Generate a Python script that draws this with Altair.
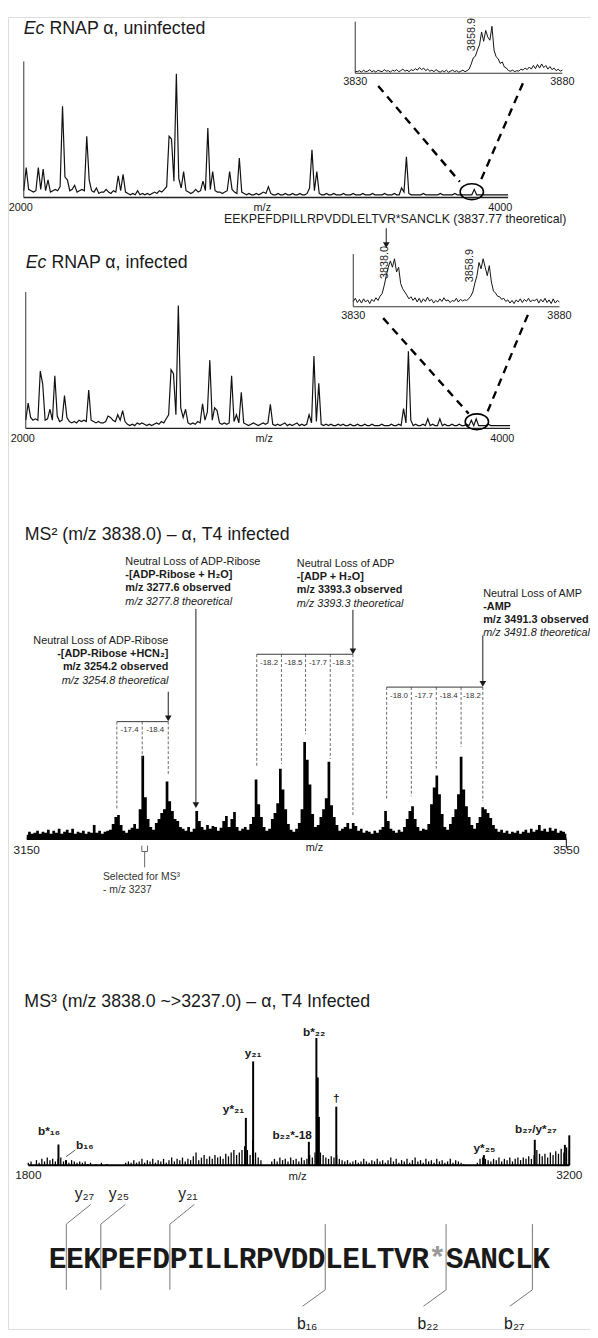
import altair as alt
import pandas as pd

FONT = "Liberation Sans"
MONO = "Liberation Mono"
INK = "#1a1a1a"
OFF = 8  # page margin

# ---------------- panel placement (page px): x-domain, x-range, y-domain, y-range
PANELS = {
    "A":  ([2000, 4000], [24, 515],     [0, 1], [191, 53]),
    "Ai": ([3830, 3880], [360, 570],    [0, 1], [65, 12.7]),
    "B":  ([2000, 4000], [26, 517],     [0, 1], [425, 286.7]),
    "Bi": ([3830, 3880], [358, 567],    [0, 1], [301.7, 248.3]),
    "C":  ([3150, 3550], [27, 574],     [0, 1], [841, 741]),
    "D":  ([1800, 3200], [28.6, 577],   [0, 1], [1172, 1043]),
    "E":  ([0, 29],      [49.6, 557.1], [0, 1], [1298.3, 1231.7]),
}

# ---------------- data: full MS spectra (m/z grid step 10)
full_mz = list(range(2000, 4001, 10))
uninfected = [
    0.05, 0.22, 0.06, 0.05, 0.04, 0.05, 0.22, 0.06, 0.21, 0.05,
    0.13, 0.04, 0.05, 0.06, 0.05, 0.08, 0.67, 0.15, 0.13, 0.05,
    0.06, 0.09, 0.04, 0.05, 0.06, 0.05, 0.45, 0.13, 0.05, 0.04,
    0.07, 0.03, 0.04, 0.04, 0.06, 0.04, 0.03, 0.05, 0.04, 0.16,
    0.05, 0.17, 0.04, 0.03, 0.02, 0.03, 0.02, 0.05, 0.02, 0.03,
    0.02, 0.03, 0.02, 0.03, 0.04, 0.03, 0.05, 0.04, 0.06, 0.08,
    0.45, 0.43, 0.12, 0.91, 0.14, 0.07, 0.19, 0.05, 0.04, 0.03,
    0.04, 0.06, 0.04, 0.05, 0.12, 0.05, 0.51, 0.06, 0.19, 0.05,
    0.04, 0.04, 0.03, 0.04, 0.05, 0.19, 0.06, 0.04, 0.03, 0.29,
    0.04, 0.03, 0.02, 0.03, 0.02, 0.02, 0.03, 0.02, 0.03, 0.04,
    0.03, 0.08, 0.03, 0.02, 0.02, 0.03, 0.02, 0.02, 0.03, 0.02,
    0.02, 0.03, 0.02, 0.02, 0.03, 0.02, 0.02, 0.03, 0.07, 0.35,
    0.05, 0.19, 0.03, 0.02, 0.02, 0.03, 0.02, 0.02, 0.03, 0.02,
    0.02, 0.02, 0.03, 0.02, 0.02, 0.02, 0.03, 0.02, 0.02, 0.02,
    0.03, 0.02, 0.02, 0.02, 0.03, 0.02, 0.02, 0.02, 0.02, 0.03,
    0.02, 0.02, 0.02, 0.03, 0.02, 0.02, 0.07, 0.04, 0.30, 0.03,
    0.02, 0.02, 0.02, 0.02, 0.02, 0.03, 0.02, 0.02, 0.02, 0.02,
    0.02, 0.02, 0.03, 0.02, 0.02, 0.02, 0.02, 0.02, 0.03, 0.02,
    0.02, 0.02, 0.02, 0.02, 0.02, 0.02, 0.06, 0.02, 0.02, 0.02,
    0.02, 0.02, 0.02, 0.02, 0.02, 0.02, 0.02, 0.02, 0.02, 0.02,
    0.02,
]
infected = [
    0.06, 0.185, 0.08, 0.06, 0.07, 0.06, 0.42, 0.325, 0.06, 0.07,
    0.14, 0.06, 0.385, 0.09, 0.05, 0.06, 0.24, 0.08, 0.05, 0.04,
    0.05, 0.04, 0.06, 0.05, 0.06, 0.05, 0.28, 0.06, 0.05, 0.04,
    0.05, 0.04, 0.04, 0.05, 0.09, 0.08, 0.06, 0.05, 0.10, 0.06,
    0.13, 0.05, 0.03, 0.02, 0.03, 0.02, 0.04, 0.03, 0.04, 0.03,
    0.02, 0.03, 0.02, 0.03, 0.04, 0.03, 0.05, 0.04, 0.07, 0.10,
    0.43, 0.40, 0.10, 0.90, 0.15, 0.08, 0.14, 0.04, 0.03, 0.04,
    0.03, 0.05, 0.04, 0.18, 0.06, 0.12, 0.50, 0.06, 0.15, 0.13,
    0.04, 0.03, 0.04, 0.03, 0.04, 0.385, 0.05, 0.10, 0.04, 0.265,
    0.04, 0.03, 0.02, 0.03, 0.04, 0.03, 0.02, 0.03, 0.04, 0.03,
    0.04, 0.176, 0.03, 0.02, 0.03, 0.02, 0.03, 0.04, 0.02, 0.03,
    0.02, 0.03, 0.04, 0.02, 0.03, 0.02, 0.03, 0.10, 0.04, 0.53,
    0.05, 0.33, 0.03, 0.02, 0.03, 0.02, 0.03, 0.02, 0.02, 0.03,
    0.02, 0.03, 0.02, 0.02, 0.03, 0.02, 0.02, 0.03, 0.02, 0.02,
    0.03, 0.02, 0.02, 0.03, 0.02, 0.02, 0.02, 0.03, 0.02, 0.02,
    0.02, 0.03, 0.02, 0.02, 0.03, 0.02, 0.145, 0.04, 0.566, 0.06,
    0.02, 0.03, 0.02, 0.02, 0.03, 0.02, 0.07, 0.02, 0.03, 0.02,
    0.02, 0.07, 0.02, 0.03, 0.02, 0.02, 0.03, 0.02, 0.02, 0.03,
    0.02, 0.02, 0.03, 0.02, 0.06, 0.02, 0.07, 0.02, 0.02, 0.02,
    0.02, 0.03, 0.02, 0.02, 0.02, 0.02, 0.02, 0.02, 0.02, 0.02,
    0.02,
]

# ---------------- zoom insets (m/z 3830-3880, step 0.5)
inset_mz = [3830 + 0.5 * i for i in range(101)]
inset_uninf = [
    0.04, 0.03, 0.05, 0.02, 0.06, 0.03, 0.04, 0.07, 0.03, 0.05,
    0.02, 0.06, 0.04, 0.03, 0.07, 0.04, 0.05, 0.02, 0.06, 0.04,
    0.07, 0.03, 0.05, 0.08, 0.04, 0.06, 0.03, 0.07, 0.05, 0.09,
    0.06, 0.11, 0.07, 0.10, 0.05, 0.08, 0.04, 0.06, 0.03, 0.07,
    0.04, 0.02, 0.05, 0.03, 0.06, 0.02, 0.04, 0.06, 0.03, 0.05,
    0.02, 0.04, 0.06, 0.03, 0.05, 0.08, 0.18, 0.30, 0.33, 0.45,
    0.55, 0.80, 0.62, 0.83, 0.70, 0.64, 0.91, 0.45, 0.32, 0.28,
    0.19, 0.22, 0.12, 0.10, 0.05, 0.04, 0.06, 0.03, 0.05, 0.04,
    0.08, 0.06, 0.10, 0.07, 0.12, 0.08, 0.15, 0.09, 0.17, 0.10,
    0.18, 0.11, 0.15, 0.08, 0.13, 0.07, 0.10, 0.05, 0.08, 0.04,
    0.06,
]
inset_inf = [
    0.10, 0.16, 0.08, 0.14, 0.07, 0.15, 0.09, 0.13, 0.06, 0.14,
    0.10, 0.17, 0.12, 0.20, 0.25, 0.40, 0.59, 0.75, 0.87, 0.75,
    0.91, 0.66, 0.75, 0.44, 0.34, 0.28, 0.22, 0.15, 0.19, 0.12,
    0.17, 0.09, 0.16, 0.08, 0.15, 0.10, 0.18, 0.11, 0.14, 0.07,
    0.12, 0.09, 0.15, 0.10, 0.17, 0.11, 0.13, 0.08, 0.12, 0.10,
    0.16, 0.09, 0.14, 0.11, 0.13, 0.12, 0.15, 0.20, 0.28, 0.45,
    0.59, 0.84, 0.72, 0.91, 0.75, 0.59, 0.78, 0.47, 0.30, 0.26,
    0.20, 0.19, 0.14, 0.16, 0.10, 0.13, 0.07, 0.12, 0.06, 0.13,
    0.09, 0.15, 0.08, 0.14, 0.10, 0.16, 0.09, 0.13, 0.11, 0.15,
    0.07, 0.14, 0.09, 0.16, 0.08, 0.13, 0.06, 0.15, 0.07, 0.12,
    0.09,
]

# ---------------- MS2 spectrum (m/z 3150-3550, step 2)
ms2_mz = list(range(3150, 3551, 2))
ms2_int = [
    0.04, 0.07, 0.05, 0.06, 0.08, 0.05, 0.07, 0.06, 0.09, 0.05,
    0.08, 0.06, 0.10, 0.05, 0.07, 0.09, 0.06, 0.10, 0.05, 0.07,
    0.06, 0.08, 0.05, 0.07, 0.06, 0.14, 0.06, 0.08, 0.05, 0.07,
    0.08, 0.09, 0.15, 0.22, 0.24, 0.14, 0.08, 0.06, 0.09, 0.11,
    0.15, 0.10, 0.30, 0.84, 0.42, 0.20, 0.12, 0.09, 0.16, 0.20,
    0.26, 0.30, 0.58, 0.38, 0.28, 0.20, 0.18, 0.12, 0.10, 0.08,
    0.12, 0.07, 0.10, 0.28, 0.18, 0.12, 0.09, 0.14, 0.10, 0.13,
    0.12, 0.08, 0.11, 0.18, 0.23, 0.12, 0.20, 0.27, 0.12, 0.08,
    0.10, 0.12, 0.09, 0.15, 0.22, 0.60, 0.35, 0.22, 0.12, 0.08,
    0.10, 0.20, 0.26, 0.36, 0.71, 0.50, 0.30, 0.15, 0.09, 0.07,
    0.10, 0.16, 0.30, 0.98, 0.80, 0.55, 0.25, 0.12, 0.14, 0.22,
    0.30, 0.41, 0.78, 0.34, 0.22, 0.14, 0.08, 0.10, 0.12, 0.16,
    0.10, 0.16, 0.13, 0.08, 0.10, 0.06, 0.08, 0.07, 0.05, 0.08,
    0.06, 0.09, 0.12, 0.28, 0.18, 0.10, 0.08, 0.06, 0.09, 0.07,
    0.12, 0.20, 0.28, 0.33, 0.20, 0.12, 0.08, 0.10, 0.09, 0.15,
    0.35, 0.52, 0.64, 0.45, 0.25, 0.12, 0.09, 0.15, 0.22, 0.30,
    0.45, 0.83, 0.50, 0.33, 0.22, 0.14, 0.10, 0.16, 0.22, 0.32,
    0.30, 0.26, 0.21, 0.14, 0.10, 0.07, 0.09, 0.06, 0.08, 0.05,
    0.07, 0.06, 0.08, 0.05, 0.07, 0.09, 0.06, 0.10, 0.07, 0.09,
    0.14, 0.08, 0.10, 0.07, 0.11, 0.08, 0.10, 0.06, 0.08, 0.07,
    0.05,
]
# neutral-loss ladders: dashed-line m/z, dashed-line lower ends, bracket height, label height, step labels
ladders = [
    ([3216.8, 3235.6, 3254.9], [0.29, 0.81, 0.64], 1.187, 1.103, ["-17.4", "-18.4"]),
    ([3320.5, 3338.8, 3356.7, 3375.0, 3391.8], [0.73, 0.76, 1.06, 0.81, 0.23], 1.87, 1.777,
     ["-18.2", "-18.5", "-17.7", "-18.3"]),
    ([3416.8, 3435.1, 3453.6, 3472.0, 3488.1], [0.39, 0.43, 0.71, 0.93, 0.38], 1.537, 1.45,
     ["-18.0", "-17.7", "-18.4", "-18.2"]),
]
# arrows: m/z, start, tip
ms2_arrows = [(3254.9, 1.49, 1.19), (3275.4, 2.33, 0.31), (3391.8, 2.32, 1.87), (3488.1, 2.06, 1.54)]
# annotation blocks: x, y, text
notes_plain_l = [(3223.1, 2.803, "Neutral Loss of ADP-Ribose"), (3350.2, 2.783, "Neutral Loss of ADP"),
                 (3488.4, 2.483, "Neutral Loss of AMP")]
notes_bold_l = [(3223.1, 2.67, "-[ADP-Ribose + H₂O]"), (3223.1, 2.537, "m/z 3277.6  observed"),
                (3350.2, 2.65, "-[ADP + H₂O]"), (3350.2, 2.517, "m/z 3393.3 observed"),
                (3488.4, 2.35, "-AMP"), (3488.4, 2.217, "m/z 3491.3 observed")]
notes_ital_l = [(3223.1, 2.403, "m/z 3277.8 theoretical"), (3350.2, 2.383, "m/z 3393.3 theoretical"),
                (3488.4, 2.083, "m/z 3491.8 theoretical")]
notes_plain_r = [(3255.0, 2.003, "Neutral Loss of ADP-Ribose")]
notes_bold_r = [(3255.0, 1.87, "-[ADP-Ribose +HCN₂]"), (3255.0, 1.737, "m/z 3254.2  observed")]
notes_ital_r = [(3255.0, 1.603, "m/z 3254.8 theoretical")]
selected = [(3206.5, -0.39, "Selected for MS³"), (3206.5, -0.523, "- m/z 3237")]

# ---------------- MS3 spectrum (m/z 1800-3200)
ms3_noise_mz = list(range(1800, 3201, 7))
ms3_noise = [
    0.02, 0.03, 0.00, 0.04, 0.02, 0.05, 0.03, 0.06, 0.04, 0.05,
    0.03, 0.05, 0.06, 0.03, 0.04, 0.02, 0.04, 0.03, 0.02, 0.03,
    0.02, 0.03, 0.01, 0.02, 0.00, 0.01, 0.00, 0.02, 0.00, 0.01,
    0.00, 0.00, 0.00, 0.00, 0.00, 0.00, 0.02, 0.03, 0.02, 0.04,
    0.02, 0.03, 0.05, 0.02, 0.04, 0.03, 0.05, 0.02, 0.04, 0.03,
    0.05, 0.02, 0.04, 0.06, 0.03, 0.05, 0.04, 0.06, 0.03, 0.05,
    0.04, 0.07, 0.10, 0.04, 0.06, 0.08, 0.05, 0.07, 0.05, 0.08,
    0.06, 0.07, 0.05, 0.09, 0.07, 0.10, 0.12, 0.08, 0.10, 0.12,
    0.15, 0.12, 0.08, 0.20, 0.10, 0.06, 0.04, 0.00, 0.00, 0.00,
    0.03, 0.05, 0.03, 0.06, 0.04, 0.05, 0.03, 0.06, 0.04, 0.05,
    0.03, 0.06, 0.04, 0.05, 0.08, 0.06, 0.10, 0.12, 0.10, 0.08,
    0.06, 0.05, 0.07, 0.06, 0.08, 0.05, 0.04, 0.03, 0.04, 0.02,
    0.03, 0.04, 0.02, 0.03, 0.05, 0.03, 0.02, 0.04, 0.03, 0.05,
    0.03, 0.04, 0.02, 0.04, 0.06, 0.03, 0.05, 0.02, 0.04, 0.03,
    0.05, 0.02, 0.04, 0.06, 0.03, 0.04, 0.02, 0.05, 0.03, 0.04,
    0.02, 0.05, 0.03, 0.04, 0.02, 0.03, 0.05, 0.02, 0.04, 0.03,
    0.02, 0.01, 0.00, 0.00, 0.00, 0.00, 0.02, 0.05, 0.06, 0.05,
    0.04, 0.03, 0.05, 0.04, 0.06, 0.03, 0.05, 0.04, 0.06, 0.03,
    0.05, 0.06, 0.04, 0.06, 0.05, 0.07, 0.05, 0.08, 0.12, 0.09,
    0.07, 0.09, 0.06, 0.10, 0.08, 0.11, 0.09, 0.13, 0.10, 0.14,
    0.12,
]
ms3_peak_mz = [1878, 1897.5, 2363, 2381.8, 2526, 2545.5, 2549, 2552, 2597, 2979, 3110.7, 3188.6, 3200]
ms3_peak_int = [0.163, 0.04, 0.372, 0.816, 0.184, 1.0, 0.69, 0.38, 0.46, 0.08, 0.20, 0.16, 0.235]
ms3_labels = [
    (1853.6, 0.271, "b*₁₆"), (1946.3, 0.157, "b₁₆"), (2331.0, 0.442, "y*₂₁"),
    (2381.8, 0.881, "y₂₁"), (2539.6, 1.049, "b*₂₂"), (2597.0, 0.527, "†"),
    (2482.7, 0.235, "b₂₂*-18"), (2980.5, 0.132, "y*₂₅"), (3113.3, 0.287, "b₂₇/y*₂₇"),
]

# ---------------- peptide map
peptide = "EEKPEFDPILLRPVDDLELTVR*SANCLK"
y_ions = [(1, "y₂₇"), (3, "y₂₅"), (7, "y₂₁")]
b_ions = [(16, "b₁₆"), (23, "b₂₂"), (28, "b₂₇")]

# ============================================================ helpers
layers = []


def enc(p):
    xd, xr, yd, yr = PANELS[p]
    return dict(
        x=alt.X("x:Q", scale=alt.Scale(domain=xd, range=[xr[0] - OFF, xr[1] - OFF], nice=False, zero=False),
                axis=None),
        y=alt.Y("y:Q", scale=alt.Scale(domain=yd, range=[yr[0] - OFF, yr[1] - OFF], nice=False, zero=False),
                axis=None),
    )


def line(p, xs, ys, **kw):
    df = pd.DataFrame({"x": xs, "y": ys})
    layers.append(alt.Chart(df).mark_line(**kw).encode(**enc(p)))


def area(p, xs, ys, **kw):
    df = pd.DataFrame({"x": xs, "y": ys})
    layers.append(alt.Chart(df).mark_area(**kw).encode(**enc(p), y2=alt.datum(0)))


def sticks(p, xs, ys, **kw):
    df = pd.DataFrame({"x": xs, "y": ys})
    layers.append(alt.Chart(df).mark_rule(**kw).encode(**enc(p), y2=alt.datum(0)))


def segs(p, rows, **kw):
    df = pd.DataFrame(rows, columns=["x", "y", "x2", "y2"])
    layers.append(alt.Chart(df).mark_rule(**kw).encode(**enc(p), x2="x2:Q", y2="y2:Q"))


def texts(p, rows, **kw):
    df = pd.DataFrame(rows, columns=["x", "y", "t"])
    kw.setdefault("font", FONT)
    kw.setdefault("color", INK)
    kw.setdefault("baseline", "middle")
    layers.append(alt.Chart(df).mark_text(**kw).encode(**enc(p), text="t:N"))


def points(p, rows, **kw):
    df = pd.DataFrame(rows, columns=["x", "y"])
    layers.append(alt.Chart(df).mark_point(**kw).encode(**enc(p)))


ELLIPSE = "M-1,0A1,0.68,0,1,1,1,0A1,0.68,0,1,1,-1,0Z"

# ============================================================ panels A / B
for p, pi, spec, ins, title, lab_y in [
    ("A", "Ai", uninfected, inset_uninf, "RNAP α, uninfected", 1.234),
    ("B", "Bi", infected, inset_inf, "RNAP α, infected", 1.215),
]:
    line(p, full_mz, spec, color="#111", strokeWidth=1.2)
    segs(p, [(2000, 0, 2000, 1)], color="#333", strokeWidth=1)
    segs(p, [(2000, 0, 4000, 0)], color="#222", strokeWidth=1.4)
    texts(p, [(2000, -0.08, "2000")], fontSize=11, dx=-3)
    texts(p, [(2985, -0.08, "m/z")], fontSize=11)
    texts(p, [(4000, -0.08, "4000")], fontSize=11, dx=-8)
    texts(p, [(2000, lab_y, "Ec")], fontSize=18, fontStyle="italic", align="left")
    texts(p, [(2000, lab_y, title)], fontSize=18, align="left", dx=26)
    # inset
    line(pi, inset_mz, ins, color="#111", strokeWidth=1)
    segs(pi, [(3830, 0, 3830, 1)], color="#333", strokeWidth=1)
    segs(pi, [(3830, 0, 3880, 0)], color="#333", strokeWidth=1.2)
    texts(pi, [(3830, -0.17, "3830"), (3880, -0.17, "3880")], fontSize=11)

texts("Ai", [(3858.1, 0.75, "3858.9")], fontSize=11, angle=270)
texts("Bi", [(3837.7, 0.84, "3838.0"), (3858.4, 0.78, "3858.9")], fontSize=11, angle=270)

segs("A", [(3463.6, 0.819, 3800.4, 0.116), (4061, 0.84, 3888, 0.13)],
     color="black", strokeWidth=2.4, strokeDash=[8, 6])
segs("B", [(3475.8, 0.808, 3829, 0.108), (4073.3, 0.832, 3903.5, 0.108)],
     color="black", strokeWidth=2.4, strokeDash=[8, 6])
points("A", [(3850, 0.043)], shape=ELLIPSE, size=560, filled=False, color="black", strokeWidth=1.6, opacity=1)
points("B", [(3862.7, 0.048)], shape=ELLIPSE, size=560, filled=False, color="black", strokeWidth=1.6, opacity=1)

texts("A", [(2827, -0.159, "EEKPEFDPILLRPVDDLELTVR*SANCLK (3837.77 theoretical)")],
      fontSize=12.5, align="left")
segs("Bi", [(3838.0, 1.49, 3838.0, 1.17)], color=INK, strokeWidth=1)
points("Bi", [(3838.0, 1.17)], shape="triangle-down", size=45, filled=True, color=INK, opacity=1)

# ============================================================ panel C (MS2)
texts("C", [(3150, 3.08, "MS² (m/z 3838.0) – α, T4 infected")], fontSize=18, align="left", dx=-2)
area("C", ms2_mz, ms2_int, color="black", interpolate="step")
segs("C", [(3150, 0, 3550, 0)], color="black", strokeWidth=2.4)
segs("C", [(3550, 0, 3550, -0.1)], color="black", strokeWidth=1)
texts("C", [(3150, -0.117, "3150"), (3550, -0.117, "3550")], fontSize=12)
texts("C", [(3363.3, -0.09, "m/z")], fontSize=11)

dash_rows, top_rows, step_rows = [], [], []
for xs, ends, top, lab, steps in ladders:
    for x, e in zip(xs, ends):
        dash_rows.append((x, top, x, e))
    top_rows.append((xs[0], top, xs[-1], top))
    for i, s in enumerate(steps):
        step_rows.append(((xs[i] + xs[i + 1]) / 2, lab, s))
segs("C", dash_rows, color="#444", strokeWidth=0.8, strokeDash=[3, 2])
segs("C", top_rows, color="#222", strokeWidth=0.9)
texts("C", step_rows, fontSize=8, color="#333")

segs("C", [(x, a, x, t + 0.03) for x, a, t in ms2_arrows], color=INK, strokeWidth=1)
points("C", [(x, t + 0.03) for x, a, t in ms2_arrows], shape="triangle-down", size=45, filled=True,
       color=INK, opacity=1)

texts("C", notes_plain_l, fontSize=11, align="left")
texts("C", notes_bold_l, fontSize=11, align="left", fontWeight="bold")
texts("C", notes_ital_l, fontSize=11, align="left", fontStyle="italic")
texts("C", notes_plain_r, fontSize=11, align="right")
texts("C", notes_bold_r, fontSize=11, align="right", fontWeight="bold")
texts("C", notes_ital_r, fontSize=11, align="right", fontStyle="italic")

segs("C", [(3235.3, -0.07, 3235.3, -0.13), (3239.5, -0.07, 3239.5, -0.13),
           (3235.3, -0.13, 3239.5, -0.13), (3237.4, -0.13, 3237.4, -0.29)], color="#555", strokeWidth=0.9)
texts("C", selected, fontSize=10.5, align="left", color="#333")

# ============================================================ panel D (MS3)
texts("D", [(1800, 1.28, "MS³ (m/z 3838.0 ~>3237.0) – α, T4 Infected")], fontSize=18, align="left", dx=-4)
sticks("D", ms3_noise_mz, ms3_noise, color="black", strokeWidth=1.3)
sticks("D", ms3_peak_mz, ms3_peak_int, color="black", strokeWidth=2)
segs("D", [(1800, 0, 3200, 0)], color="black", strokeWidth=2)
texts("D", [(1800, -0.075, "1800"), (3200, -0.075, "3200")], fontSize=12)
texts("D", [(2497, -0.093, "m/z")], fontSize=11.5)
texts("D", ms3_labels, fontSize=12, fontWeight="bold")
segs("D", [(1897.5, 0.067, 1921.8, 0.12)], color="#333", strokeWidth=0.8)

# ============================================================ panel E (peptide)
letters = [(i + 0.5, 0.474, c) for i, c in enumerate(peptide) if c != "*"]
stars = [(i + 0.5, 0.474, c) for i, c in enumerate(peptide) if c == "*"]
texts("E", letters, font=MONO, fontWeight="bold", fontSize=30)
texts("E", stars, font=MONO, fontWeight="bold", fontSize=30, color="#999")
marks = [(b, 0, b, 1) for b, _ in y_ions + b_ions]
marks += [(b, 1, b + 1.42, 1.30) for b, _ in y_ions]
marks += [(b, 0, b - 1.31, -0.25) for b, _ in b_ions]
segs("E", marks, color="#777", strokeWidth=1)
texts("E", [(b + 1.05, 1.45, t) for b, t in y_ions], fontSize=16)
texts("E", [(b - 1.05, -0.52, t) for b, t in b_ions], fontSize=16)

chart = (
    alt.layer(*layers)
    .resolve_scale(x="independent", y="independent")
    .properties(width=590, height=1330, padding=0, autosize=alt.AutoSizeParams(type="none"))
    .configure_view(stroke=None)
    .configure(background="white")
)
chart.save("out.html", embed_options={"renderer": "svg", "actions": False})
